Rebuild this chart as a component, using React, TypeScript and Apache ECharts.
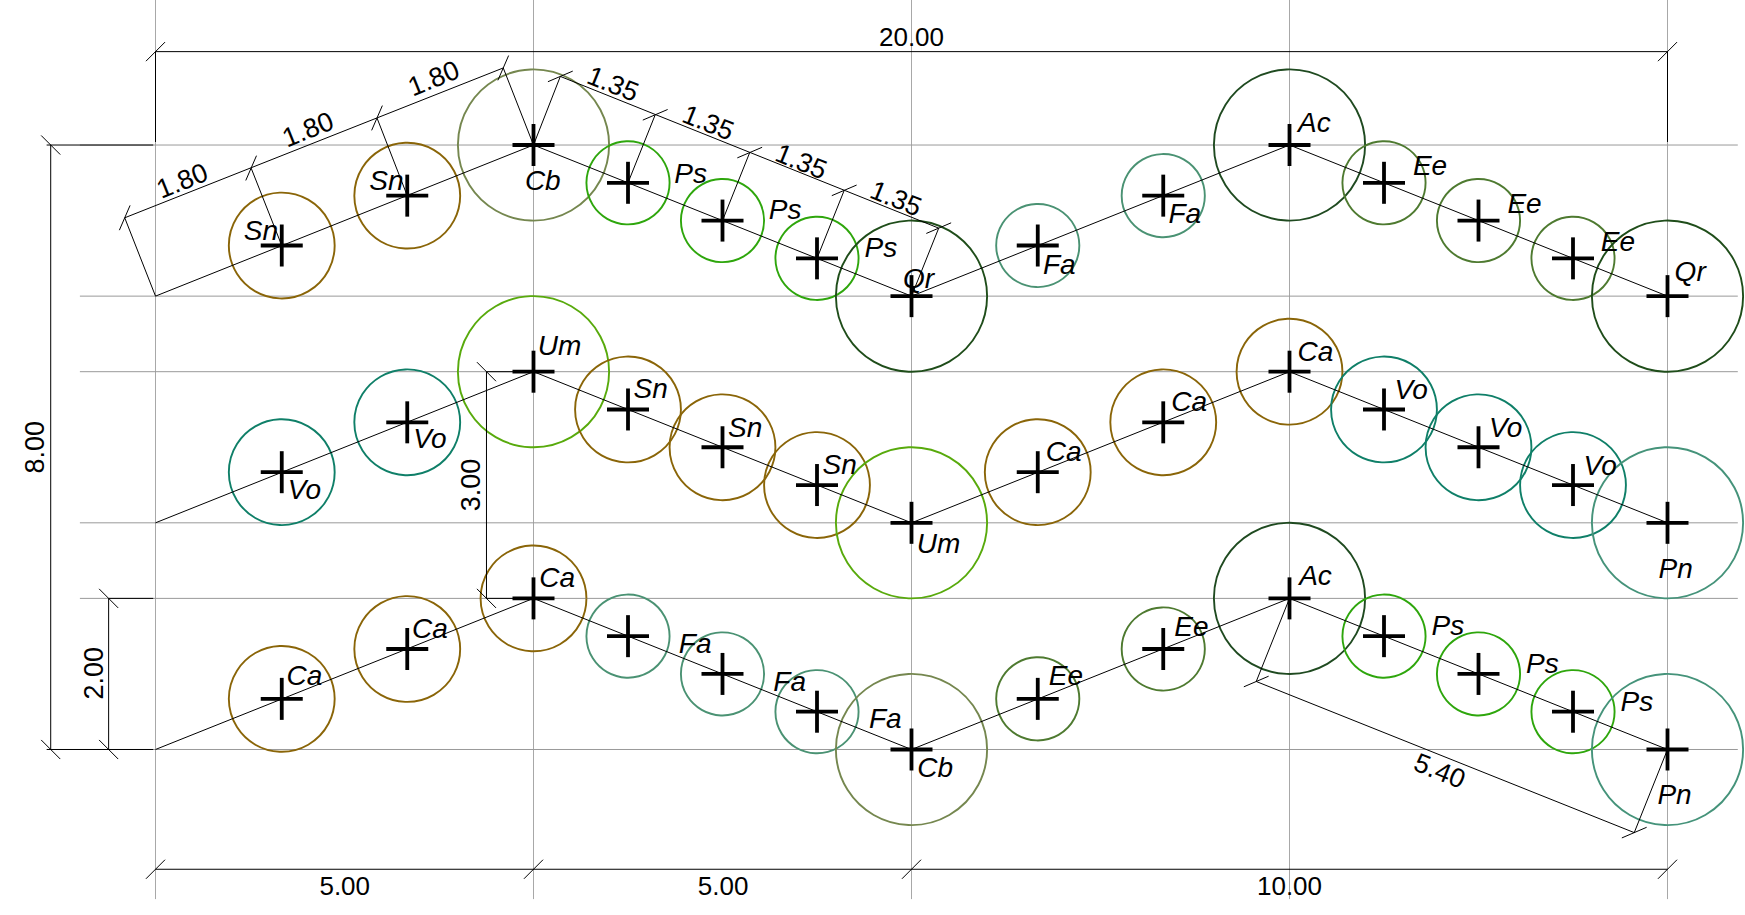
import React, { useEffect, useRef } from "react";
import * as echarts from "echarts";

const plantX = [1.67, 3.33, 5, 6.25, 7.5, 8.75, 10, 11.67, 13.33, 15, 16.25, 17.5, 18.75, 20];
const rowTopY = [6.67, 7.33, 8, 7.5, 7, 6.5, 6, 6.67, 7.33, 8, 7.5, 7, 6.5, 6];
const rowMidY = [3.67, 4.33, 5, 4.5, 4, 3.5, 3, 3.67, 4.33, 5, 4.5, 4, 3.5, 3];
const rowBottomY = [0.67, 1.33, 2, 1.5, 1, 0.5, 0, 0.67, 1.33, 2, 1.5, 1, 0.5, 0];
const rowTopNames = ["Sn", "Sn", "Cb", "Ps", "Ps", "Ps", "Qr", "Fa", "Fa", "Ac", "Ee", "Ee", "Ee", "Qr"];
const rowMidNames = ["Vo", "Vo", "Um", "Sn", "Sn", "Sn", "Um", "Ca", "Ca", "Ca", "Vo", "Vo", "Vo", "Pn"];
const rowBottomNames = ["Ca", "Ca", "Ca", "Fa", "Fa", "Fa", "Cb", "Ee", "Ee", "Ac", "Ps", "Ps", "Ps", "Pn"];
const zigzagX = [0, 5, 10, 15, 20];
const zigzagTop = [6, 8, 6, 8, 6];
const zigzagMid = [3, 5, 3, 5, 3];
const zigzagBottom = [0, 2, 0, 2, 0];
const gridXs = [0, 5, 10, 15, 20];
const gridYs = [0, 2, 3, 5, 6, 8];

const speciesDiameter: Record<string, number> = { Sn: 1.4, Cb: 2, Ps: 1.1, Qr: 2, Fa: 1.1, Ac: 2, Ee: 1.1, Vo: 1.4, Um: 2, Ca: 1.4, Pn: 2 };
const speciesColor: Record<string, string> = {
  Sn: "#8a6508", Ca: "#8a6508", Cb: "#75874f", Ps: "#2ea60c", Qr: "#1f4d1a", Fa: "#4a9273",
  Ac: "#1f4a20", Ee: "#4e7a30", Vo: "#0f7f68", Um: "#58aa0c", Pn: "#45937a",
};

const k = 1.113;
const topOffsets = [[-20,-14],[-20,-14],[7,31],[55,-9],[55,-10],[56,-10],[5,-16],[18,17],[18,16],[21,-21],[40,-16],[40,-16],[39,-16],[19,-23]];
const midOffsets = [[19,15],[19,14],[22,-24],[19,-19],[19,-18],[19,-19],[23,18],[22,-19],[22,-19],[22,-19],[23,-18],[23,-18],[23,-18],[6,41]];
const bottomOffsets = [[19,-21],[19,-19],[20,-19],[59,6],[59,6],[60,6],[20,16],[24,-21],[24,-21],[22,-21],[56,-10],[56,-10],[56,-10],[5,40]];

const dimChains = [
  [[0, 9.236], [20, 9.236]],
  [[0, -1.585], [5, -1.585], [10, -1.585], [20, -1.585]],
  [[-1.386, 8], [-1.386, 0]],
  [[-0.62, 2], [-0.62, 0]],
  [[4.378, 5], [4.378, 2]],
  [[-0.407, 7.037], [1.265, 7.695], [2.93, 8.358], [4.6, 9.02]],
  [[5.355, 8.908], [6.61, 8.4], [7.86, 7.9], [9.11, 7.4], [10.36, 6.9]],
  [[14.56, 0.9], [19.56, -1.1]],
];
const dimExtensions = [
  [0, 9.236, 0, 8.04], [20, 9.236, 20, 8.04],
  [-1.44, 8, -0.03, 8], [-1.44, 0, -0.03, 0], [-0.62, 2, -0.03, 2],
  [4.378, 5, 5, 5], [4.378, 2, 5, 2],
  [-0.407, 7.037, 0, 6], [1.265, 7.695, 1.67, 6.67], [2.93, 8.358, 3.33, 7.33], [4.6, 9.02, 5, 8],
  [5.355, 8.908, 5, 8], [6.61, 8.4, 6.25, 7.5], [7.86, 7.9, 7.5, 7], [9.11, 7.4, 8.75, 6.5], [10.36, 6.9, 10, 6],
  [14.56, 0.9, 15, 2], [19.56, -1.1, 20, 0],
];
const dimTexts = [
  { t: "20.00", x: 10, y: 9.425, r: 0 },
  { t: "5.00", x: 2.503, y: -1.81, r: 0 },
  { t: "5.00", x: 7.508, y: -1.81, r: 0 },
  { t: "10.00", x: 15, y: -1.81, r: 0 },
  { t: "8.00", x: -1.59, y: 3.999, r: 90 },
  { t: "2.00", x: -0.82, y: 1.01, r: 90 },
  { t: "3.00", x: 4.179, y: 3.5, r: 90 },
  { t: "1.80", x: 0.353, y: 7.525, r: 22 },
  { t: "1.80", x: 2.017, y: 8.205, r: 22 },
  { t: "1.80", x: 3.68, y: 8.881, r: 22 },
  { t: "1.35", x: 6.05, y: 8.808, r: -22 },
  { t: "1.35", x: 7.311, y: 8.295, r: -22 },
  { t: "1.35", x: 8.54, y: 7.781, r: -22 },
  { t: "1.35", x: 9.795, y: 7.291, r: -22 },
  { t: "5.40", x: 16.987, y: -0.285, r: -22 },
];

const plants = [
  ...plantX.map((x, i) => ({ x, y: rowTopY[i], name: rowTopNames[i], off: topOffsets[i] })),
  ...plantX.map((x, i) => ({ x, y: rowMidY[i], name: rowMidNames[i], off: midOffsets[i] })),
  ...plantX.map((x, i) => ({ x, y: rowBottomY[i], name: rowBottomNames[i], off: bottomOffsets[i] })),
];
const LABEL_FONT = 'italic 28px "Liberation Sans", Arial, sans-serif';
const DIM_FONT = '26px "Liberation Sans", Arial, sans-serif';
const DIM_FONT_SLANT = '27px "Liberation Sans", Arial, sans-serif';
const seg = (a: number[], b: number[], stroke: string, lineWidth: number) => ({
  type: "line",
  shape: { x1: a[0], y1: a[1], x2: b[0], y2: b[1] },
  style: { stroke, lineWidth, fill: "none" },
});

export default function App() {
  const ref = useRef<HTMLDivElement>(null);
  useEffect(() => {
    document.body.style.margin = "0";
    document.body.style.background = "#fff";
    const chart = echarts.init(ref.current!, null, { renderer: "svg" });
    const base = { type: "custom", coordinateSystem: "cartesian2d", silent: true, clip: false, encode: { x: 0, y: 1 } };
    const zigzags = [zigzagTop, zigzagMid, zigzagBottom];
    chart.setOption({
      animation: false,
      backgroundColor: "#fff",
      grid: { left: 4.3, top: 1.456, width: 1738.8, height: 899.16, containLabel: false },
      xAxis: { type: "value", min: -2, max: 21, show: false },
      yAxis: { type: "value", min: -2, max: 9.9, show: false },
      series: [
        {
          ...base, name: "grid-x", z: 1,
          data: gridXs.map((x) => [x, 0]),
          renderItem: (_p: any, api: any) => seg(api.coord([api.value(0), 9.93]), api.coord([api.value(0), -1.98]), "#a8a8a8", 1),
        },
        {
          ...base, name: "grid-y", z: 1,
          data: gridYs.map((y) => [0, y]),
          renderItem: (_p: any, api: any) => seg(api.coord([-1, api.value(1)]), api.coord([20.93, api.value(1)]), "#999999", 1),
        },
        {
          ...base, name: "plants", z: 2,
          data: plants.map((p) => [p.x, p.y]),
          renderItem: (p: any, api: any) => {
            const pl = plants[p.dataIndex];
            const c = api.coord([api.value(0), api.value(1)]);
            return {
              type: "circle",
              shape: { cx: c[0], cy: c[1], r: api.size([speciesDiameter[pl.name] / 2, 0])[0] },
              style: { stroke: speciesColor[pl.name], lineWidth: 1.9, fill: "none" },
            };
          },
        },
        ...zigzags.map((ys, i) => ({
          type: "line", name: "row" + i, z: 3, silent: true, symbol: "none",
          data: zigzagX.map((x, j) => [x, ys[j]]),
          lineStyle: { color: "#000", width: 1 },
        })),
        {
          ...base, name: "dim-ext", z: 3,
          data: dimExtensions.map((e) => [e[0], e[1], e[2], e[3]]),
          renderItem: (_p: any, api: any) =>
            seg(api.coord([api.value(0), api.value(1)]), api.coord([api.value(2), api.value(3)]), "#000", 1),
        },
        {
          ...base, name: "dim-chains", z: 3,
          data: dimChains.map((c) => c[0]),
          renderItem: (p: any, api: any) => {
            const pts = dimChains[p.dataIndex].map((q) => api.coord(q));
            const first = pts[0];
            const last = pts[pts.length - 1];
            const ang = Math.atan2(last[1] - first[1], last[0] - first[0]) - Math.PI / 4;
            const dx = 13.5 * Math.cos(ang);
            const dy = 13.5 * Math.sin(ang);
            return {
              type: "group",
              children: [
                seg(first, last, "#000", 1),
                ...pts.map((q: number[]) => seg([q[0] - dx, q[1] - dy], [q[0] + dx, q[1] + dy], "#000", 1)),
              ],
            };
          },
        },
        {
          ...base, name: "crosses", z: 4,
          data: plants.map((p) => [p.x, p.y]),
          renderItem: (_p: any, api: any) => {
            const c = api.coord([api.value(0), api.value(1)]);
            return {
              type: "group",
              children: [
                seg([c[0] - 21, c[1]], [c[0] + 21, c[1]], "#000", 3.8),
                seg([c[0], c[1] - 21], [c[0], c[1] + 21], "#000", 3.8),
              ],
            };
          },
        },
        {
          ...base, name: "labels", z: 5,
          data: plants.map((p) => [p.x, p.y]),
          renderItem: (p: any, api: any) => {
            const pl = plants[p.dataIndex];
            const c = api.coord([api.value(0), api.value(1)]);
            return {
              type: "text",
              x: c[0] + pl.off[0] * k + 1.5,
              y: c[1] + pl.off[1] * k + 0.5,
              style: { text: pl.name, font: LABEL_FONT, fill: "#000", align: "center", verticalAlign: "middle" },
            };
          },
        },
        {
          ...base, name: "dim-text", z: 5,
          data: dimTexts.map((d) => [d.x, d.y]),
          renderItem: (p: any, api: any) => {
            const d = dimTexts[p.dataIndex];
            const c = api.coord([api.value(0), api.value(1)]);
            return {
              type: "text",
              x: c[0],
              y: c[1],
              rotation: (d.r * Math.PI) / 180,
              style: { text: d.t, font: d.r === 0 ? DIM_FONT : DIM_FONT_SLANT, fill: "#000", align: "center", verticalAlign: "middle" },
            };
          },
        },
      ],
    });
    return () => chart.dispose();
  }, []);
  return <div ref={ref} style={{ position: "absolute", left: 0, top: 0, width: 1745, height: 915 }} />;
}
